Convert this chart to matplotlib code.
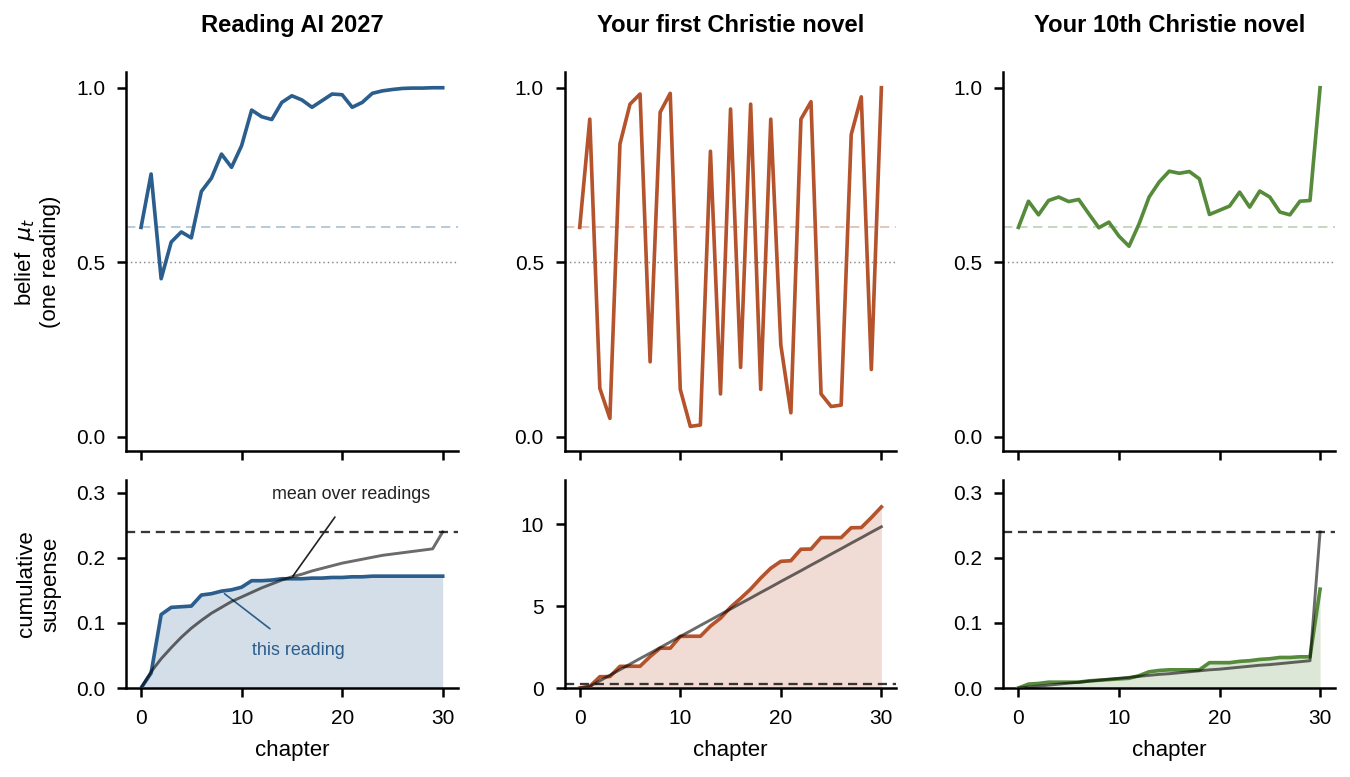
import matplotlib
matplotlib.use("Agg")
import matplotlib.pyplot as plt
import numpy as np

plt.rcParams['font.family'] = ['Liberation Sans', 'DejaVu Sans']

chapters = list(range(31))

titles = ["Reading AI 2027", "Your first Christie novel", "Your 10th Christie novel"]
colors = ["#2b5e8c", "#b4532c", "#558b3a"]

belief_ai = [0.60, 0.753, 0.453, 0.558, 0.587, 0.570, 0.703, 0.741, 0.810, 0.772, 0.834,
             0.936, 0.917, 0.909, 0.958, 0.977, 0.965, 0.944, 0.963, 0.982, 0.980,
             0.944, 0.958, 0.984, 0.991, 0.995, 0.998, 0.999, 0.999, 1.0, 1.0]
belief_first = [0.60, 0.91, 0.139, 0.053, 0.839, 0.953, 0.982, 0.215, 0.930, 0.984, 0.136,
                0.030, 0.034, 0.818, 0.123, 0.939, 0.199, 0.953, 0.136, 0.910, 0.263,
                0.069, 0.910, 0.960, 0.123, 0.087, 0.091, 0.866, 0.974, 0.193, 1.0]
belief_tenth = [0.60, 0.675, 0.636, 0.677, 0.687, 0.674, 0.680, 0.639, 0.599, 0.615, 0.575,
                0.546, 0.610, 0.687, 0.730, 0.761, 0.755, 0.760, 0.739, 0.637, 0.649,
                0.661, 0.701, 0.658, 0.704, 0.687, 0.644, 0.636, 0.675, 0.677, 1.0]

susp_ai = [0.0, 0.023, 0.113, 0.124, 0.125, 0.126, 0.143, 0.145, 0.149, 0.151, 0.155,
           0.165, 0.165, 0.166, 0.168, 0.168, 0.168, 0.169, 0.169, 0.170, 0.170,
           0.171, 0.171, 0.172, 0.172, 0.172, 0.172, 0.172, 0.172, 0.172, 0.172]
susp_first = [0.0, 0.10, 0.69, 0.70, 1.32, 1.33, 1.33, 1.92, 2.43, 2.43, 3.15,
              3.16, 3.16, 3.78, 4.26, 4.93, 5.47, 6.04, 6.71, 7.31, 7.73,
              7.77, 8.47, 8.48, 9.18, 9.18, 9.18, 9.78, 9.79, 10.40, 11.05]
susp_tenth = [0.0, 0.006, 0.007, 0.009, 0.009, 0.009, 0.009, 0.011, 0.012, 0.013, 0.014,
              0.015, 0.019, 0.025, 0.027, 0.028, 0.028, 0.028, 0.028, 0.039, 0.039,
              0.039, 0.041, 0.042, 0.044, 0.045, 0.047, 0.047, 0.048, 0.048, 0.152]

mean_ai = [0.0, 0.025, 0.045, 0.062, 0.078, 0.092, 0.104, 0.115, 0.124, 0.133, 0.140,
           0.147, 0.154, 0.160, 0.166, 0.171, 0.175, 0.180, 0.184, 0.188, 0.192,
           0.195, 0.198, 0.201, 0.204, 0.206, 0.208, 0.210, 0.212, 0.214, 0.240]
mean_first = [0.0, 0.10, 0.44, 0.78, 1.12, 1.46, 1.80, 2.13, 2.47, 2.81, 3.15,
              3.48, 3.82, 4.15, 4.49, 4.82, 5.16, 5.49, 5.83, 6.16, 6.50,
              6.83, 7.16, 7.50, 7.83, 8.17, 8.50, 8.84, 9.17, 9.51, 9.84]
mean_tenth = [0.0, 0.0015, 0.003, 0.0045, 0.006, 0.0075, 0.009, 0.0105, 0.012, 0.0135, 0.015,
              0.0165, 0.018, 0.0195, 0.021, 0.022, 0.0235, 0.025, 0.0265, 0.028, 0.029,
              0.0305, 0.032, 0.0335, 0.035, 0.036, 0.0375, 0.039, 0.0405, 0.042, 0.240]

prior = 0.6
half = 0.5
expected_total = 0.24

beliefs = [belief_ai, belief_first, belief_tenth]
susps = [susp_ai, susp_first, susp_tenth]
means = [mean_ai, mean_first, mean_tenth]
bottom_ylims = [(0, 0.32), (0, 12.7), (0, 0.32)]
bottom_ticks = [[0.0, 0.1, 0.2, 0.3], [0, 5, 10], [0.0, 0.1, 0.2, 0.3]]
bottom_ticklabels = [["0.0", "0.1", "0.2", "0.3"], ["0", "5", "10"], ["0.0", "0.1", "0.2", "0.3"]]

fig, axes = plt.subplots(2, 3, figsize=(9, 5.18), dpi=150,
                         gridspec_kw=dict(height_ratios=[1.82, 1]), sharex='col')
fig.subplots_adjust(left=0.0933, right=0.989, top=0.9073, bottom=0.1145,
                    wspace=0.322, hspace=0.099)

for j in range(3):
    c = colors[j]
    ax = axes[0, j]
    ax.plot(chapters, beliefs[j], color=c, lw=1.75, zorder=3)
    ax.axhline(prior, color=c, lw=0.9, ls=(0, (5, 3)), alpha=0.35, zorder=1)
    ax.axhline(half, color="#888888", lw=0.7, ls=(0, (1, 2)), zorder=1)
    ax.set_ylim(-0.04, 1.045)
    ax.set_yticks([0.0, 0.5, 1.0])
    ax.set_yticklabels(["0.0", "0.5", "1.0"])
    ax.set_title(titles[j], fontsize=11.4, fontweight='bold', pad=19)

    axb = axes[1, j]
    axb.fill_between(chapters, 0, susps[j], color=c, alpha=0.2, lw=0, zorder=1)
    axb.plot(chapters, susps[j], color=c, lw=1.75, zorder=3)
    axb.plot(chapters, means[j], color='black', alpha=0.58, lw=1.4, zorder=4)
    axb.axhline(expected_total, color='#222222', lw=1.1, ls=(0, (4, 2.5)), alpha=0.9, zorder=2)
    axb.set_ylim(*bottom_ylims[j])
    axb.set_yticks(bottom_ticks[j])
    axb.set_yticklabels(bottom_ticklabels[j])
    axb.set_xticks([0, 10, 20, 30])
    axb.set_xlabel("chapter", fontsize=10.7, labelpad=6)

for ax in axes.flat:
    for s in ["top", "right"]:
        ax.spines[s].set_visible(False)
    for s in ["left", "bottom"]:
        ax.spines[s].set_linewidth(1.2)
    ax.tick_params(axis='both', which='major', labelsize=10, length=4.5, width=1.2,
                   pad=5.5, direction='out', colors='black')
    ax.set_xlim(-1.5, 31.5)

axes[0, 0].set_ylabel("belief  $\\mu_t$\n(one reading)", fontsize=10.7, labelpad=7)
axes[1, 0].set_ylabel("cumulative\nsuspense", fontsize=10.7, labelpad=7)

axl = axes[1, 0]
axl.annotate("mean over readings", xy=(15.1, 0.172), xytext=(20.9, 0.298),
             fontsize=8.6, color="#222222", ha='center', va='center',
             arrowprops=dict(arrowstyle='-', color='#222222', lw=0.8, shrinkA=6, shrinkB=0))
axl.annotate("this reading", xy=(8.3, 0.145), xytext=(15.6, 0.058),
             fontsize=8.6, color=colors[0], ha='center', va='center',
             arrowprops=dict(arrowstyle='-', color=colors[0], lw=0.8, shrinkA=7, shrinkB=0))

fig.savefig("out.png", dpi=150)
